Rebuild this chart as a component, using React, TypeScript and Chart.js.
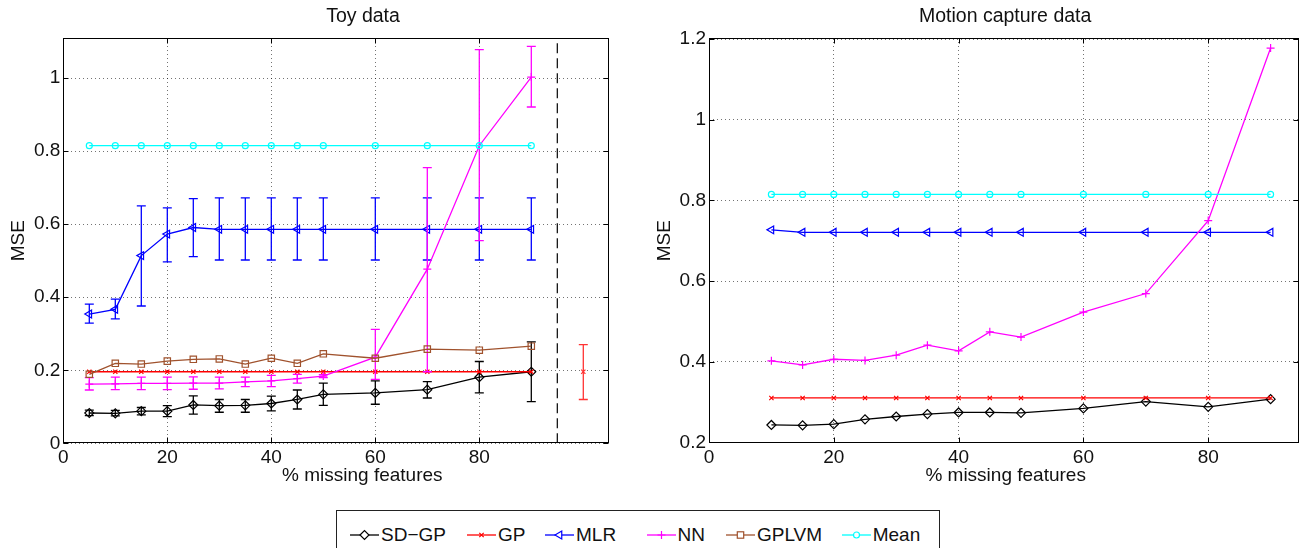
import React, { useEffect, useRef } from "react";
import { Chart, registerables } from "chart.js";

Chart.register(...registerables);

const FONT = "'Liberation Sans', Arial, Helvetica, sans-serif";
const TEXT = "#111";
const GRID = "rgba(0,0,0,0.55)";

// ---- series meta ----
const seriesNames = ["SD\u2212GP", "GP", "MLR", "NN", "GPLVM", "Mean"];
const seriesColors = ["#000000", "#ff0000", "#0000ff", "#ff00ff", "#a0522d", "#00ffff"];
const seriesMarkers = ["rectRot", "crossRot", "triangle", "cross", "rect", "circle"];

// ---- Toy data ----
const toyX = [5, 10, 15, 20, 25, 30, 35, 40, 45, 50, 60, 70, 80, 90];
const toySdgp = [0.083, 0.082, 0.088, 0.088, 0.105, 0.103, 0.104, 0.109, 0.12, 0.134, 0.138, 0.147, 0.181, 0.196];
const toySdgpLo = [0.076, 0.075, 0.078, 0.073, 0.08, 0.085, 0.085, 0.089, 0.094, 0.104, 0.107, 0.124, 0.138, 0.114];
const toySdgpHi = [0.091, 0.09, 0.098, 0.103, 0.13, 0.12, 0.12, 0.129, 0.146, 0.165, 0.171, 0.169, 0.224, 0.278];
const toyGp = [0.196, 0.196, 0.196, 0.196, 0.196, 0.196, 0.196, 0.196, 0.196, 0.196, 0.196, 0.196, 0.196, 0.196];
const toyMlr = [0.354, 0.367, 0.514, 0.573, 0.591, 0.586, 0.586, 0.586, 0.586, 0.586, 0.586, 0.586, 0.586, 0.586];
const toyMlrLo = [0.329, 0.341, 0.376, 0.497, 0.511, 0.502, 0.502, 0.502, 0.502, 0.502, 0.502, 0.502, 0.502, 0.502];
const toyMlrHi = [0.381, 0.395, 0.65, 0.645, 0.67, 0.672, 0.672, 0.672, 0.672, 0.672, 0.672, 0.672, 0.672, 0.672];
const toyNn = [0.162, 0.163, 0.164, 0.164, 0.165, 0.165, 0.168, 0.171, 0.177, 0.184, 0.236, 0.477, 0.815, 1.003];
const toyNnLo = [0.146, 0.147, 0.147, 0.147, 0.148, 0.149, 0.155, 0.155, 0.165, 0.18, 0.175, 0.196, 0.555, 0.921];
const toyNnHi = [0.18, 0.181, 0.181, 0.181, 0.182, 0.181, 0.181, 0.186, 0.189, 0.188, 0.312, 0.755, 1.078, 1.087];
const toyGplvm = [0.189, 0.219, 0.217, 0.225, 0.23, 0.231, 0.217, 0.233, 0.219, 0.245, 0.233, 0.258, 0.255, 0.266];
const toyMean = [0.815, 0.815, 0.815, 0.815, 0.815, 0.815, 0.815, 0.815, 0.815, 0.815, 0.815, 0.815, 0.815, 0.815];
const toyGpHeldX = [100];
const toyGpHeld = [0.196];
const toyGpHeldLo = [0.12];
const toyGpHeldHi = [0.27];
const toyDividerX = [95, 95];
const toyDividerY = [0, 1.11];
const toyXTicks = [0, 20, 40, 60, 80];
const toyYTicks = [0, 0.2, 0.4, 0.6, 0.8, 1];

// ---- Motion capture data ----
const motionX = [10, 15, 20, 25, 30, 35, 40, 45, 50, 60, 70, 80, 90];
const motionSdgp = [0.243, 0.242, 0.245, 0.257, 0.264, 0.27, 0.274, 0.274, 0.273, 0.284, 0.301, 0.288, 0.307];
const motionGp = [0.31, 0.31, 0.31, 0.31, 0.31, 0.31, 0.31, 0.31, 0.31, 0.31, 0.31, 0.31, 0.31];
const motionMlr = [0.727, 0.721, 0.721, 0.721, 0.721, 0.721, 0.721, 0.721, 0.721, 0.721, 0.721, 0.721, 0.721];
const motionNn = [0.402, 0.392, 0.406, 0.403, 0.416, 0.441, 0.427, 0.474, 0.461, 0.523, 0.569, 0.75, 1.178];
const motionMean = [0.815, 0.815, 0.815, 0.815, 0.815, 0.815, 0.815, 0.815, 0.815, 0.815, 0.815, 0.815, 0.815];
const motionXTicks = [0, 20, 40, 60, 80];
const motionYTicks = [0.2, 0.4, 0.6, 0.8, 1, 1.2];

const X_TITLE = "% missing features";
const Y_TITLE = "MSE";

const MARKER_R: Record<string, number> = { rectRot: 4.5, crossRot: 3, triangle: 4.5, cross: 4, rect: 4.5, circle: 3 };

function lineDataset(i: number, xs: number[], ys: number[], lo?: number[], hi?: number[]): any {
  const m = seriesMarkers[i];
  return {
    label: seriesNames[i],
    data: xs.map((x, k) => ({ x, y: ys[k] })),
    borderColor: seriesColors[i],
    backgroundColor: seriesColors[i],
    borderWidth: 1.3,
    pointStyle: m,
    pointRadius: MARKER_R[m],
    pointRotation: m === "triangle" ? -90 : 0,
    pointBorderWidth: 1.2,
    pointBackgroundColor: "rgba(0,0,0,0)",
    pointBorderColor: seriesColors[i],
    tension: 0,
    order: 10 - i,
    errLo: lo,
    errHi: hi,
  };
}

const errorBarPlugin = {
  id: "errorBars",
  afterDatasetDraw(chart: any, args: any) {
    const ds: any = chart.data.datasets[args.index];
    if (!ds.errLo) return;
    const { ctx, chartArea } = chart;
    const xs = chart.scales.x;
    const ys = chart.scales.y;
    ctx.save();
    ctx.beginPath();
    ctx.rect(chartArea.left, chartArea.top, chartArea.right - chartArea.left, chartArea.bottom - chartArea.top);
    ctx.clip();
    ctx.strokeStyle = ds.errColor || ds.borderColor;
    ctx.lineWidth = 1.3;
    const cap = 4.5;
    ds.data.forEach((p: any, k: number) => {
      const x = xs.getPixelForValue(p.x);
      const y1 = ys.getPixelForValue(ds.errLo[k]);
      const y2 = ys.getPixelForValue(ds.errHi[k]);
      ctx.beginPath();
      ctx.moveTo(x, y1);
      ctx.lineTo(x, y2);
      ctx.moveTo(x - cap, y1);
      ctx.lineTo(x + cap, y1);
      ctx.moveTo(x - cap, y2);
      ctx.lineTo(x + cap, y2);
      ctx.stroke();
    });
    ctx.restore();
  },
};

const framePlugin = {
  id: "frame",
  afterDraw(chart: any) {
    const { ctx, chartArea } = chart;
    const { left, right, top, bottom } = chartArea;
    ctx.save();
    ctx.strokeStyle = "#000";
    ctx.lineWidth = 1;
    const L = Math.round(left) + 0.5, R = Math.round(right) - 0.5;
    const T = Math.round(top) + 0.5, B = Math.round(bottom) - 0.5;
    ctx.strokeRect(L, T, R - L, B - T);
    const tl = 5;
    ctx.beginPath();
    chart.scales.x.ticks.forEach((t: any) => {
      const x = Math.round(chart.scales.x.getPixelForValue(t.value)) + 0.5;
      ctx.moveTo(x, B);
      ctx.lineTo(x, B - tl);
      ctx.moveTo(x, T);
      ctx.lineTo(x, T + tl);
    });
    chart.scales.y.ticks.forEach((t: any) => {
      const y = Math.round(chart.scales.y.getPixelForValue(t.value)) + 0.5;
      ctx.moveTo(L, y);
      ctx.lineTo(L + tl, y);
      ctx.moveTo(R, y);
      ctx.lineTo(R - tl, y);
    });
    ctx.stroke();
    ctx.restore();
  },
};

// titles centred over the plot box with a small horizontal offset (as in the reference)
const plotTitlePlugin = {
  id: "plotTitle",
  afterDraw(chart: any, _args: any, opts: any) {
    if (!opts) return;
    const { ctx, chartArea } = chart;
    const cx = (chartArea.left + chartArea.right) / 2;
    ctx.save();
    ctx.fillStyle = TEXT;
    ctx.textAlign = "center";
    ctx.textBaseline = "middle";
    if (opts.text) {
      ctx.font = `${opts.size}px ${FONT}`;
      ctx.fillText(opts.text, cx + opts.dx, opts.y);
    }
    if (opts.xText) {
      ctx.font = `${opts.xSize}px ${FONT}`;
      ctx.fillText(opts.xText, cx + opts.xDx, opts.xY);
    }
    ctx.restore();
  },
};

function fmt(v: number) {
  return String(Math.round(v * 10) / 10);
}

function buildConfig(p: {
  datasets: any[];
  xMin: number; xMax: number; xTicks: number[];
  yMin: number; yMax: number; yTicks: number[];
  yAxisWidth: number; yTitlePad: number; padRight: number;
  title: string; titleDx: number; xTitleDx: number;
}): any {
  const font = { family: FONT, size: 19 };
  return {
    type: "line",
    data: { datasets: p.datasets },
    plugins: [errorBarPlugin, framePlugin, plotTitlePlugin],
    options: {
      animation: false,
      responsive: false,
      devicePixelRatio: 1,
      events: [],
      layout: { padding: { top: 38, left: 0, right: p.padRight, bottom: 0 } },
      plugins: {
        legend: { display: false },
        tooltip: { enabled: false },
        plotTitle: {
          text: p.title, dx: p.titleDx, y: 17, size: 19.5,
          xText: X_TITLE, xDx: p.xTitleDx, xY: 476, xSize: 19,
        },
      },
      scales: {
        x: {
          type: "linear",
          min: p.xMin,
          max: p.xMax,
          afterBuildTicks: (s: any) => { s.ticks = p.xTicks.map((v) => ({ value: v })); },
          afterFit: (s: any) => { s.height = 56.7; },
          grid: { color: GRID, lineWidth: 1, drawTicks: false },
          border: { display: false, dash: [1, 3] },
          ticks: { padding: 3, font, color: TEXT, autoSkip: false, maxRotation: 0, callback: (v: any) => String(v) },
          title: { display: false },
        },
        y: {
          type: "linear",
          min: p.yMin,
          max: p.yMax,
          afterBuildTicks: (s: any) => { s.ticks = p.yTicks.map((v) => ({ value: v })); },
          afterFit: (s: any) => { s.width = p.yAxisWidth; },
          grid: { color: GRID, lineWidth: 1, drawTicks: false },
          border: { display: false, dash: [1, 3] },
          ticks: { padding: 3, font, color: TEXT, autoSkip: false, callback: (v: any) => fmt(v) },
          title: { display: true, text: Y_TITLE, font, color: TEXT, padding: { top: p.yTitlePad, bottom: 0 } },
        },
      },
    },
  };
}

function toyConfig() {
  const datasets = [
    lineDataset(0, toyX, toySdgp, toySdgpLo, toySdgpHi),
    lineDataset(1, toyX, toyGp),
    lineDataset(2, toyX, toyMlr, toyMlrLo, toyMlrHi),
    lineDataset(3, toyX, toyNn, toyNnLo, toyNnHi),
    lineDataset(4, toyX, toyGplvm),
    lineDataset(5, toyX, toyMean),
    {
      ...lineDataset(1, toyGpHeldX, toyGpHeld, toyGpHeldLo, toyGpHeldHi),
      label: "GP (held out)",
      showLine: false,
      borderColor: "#ff3333",
      pointBorderColor: "#ff3333",
      errColor: "#ff3333",
    },
    {
      label: "divider",
      data: toyDividerX.map((x, k) => ({ x, y: toyDividerY[k] })),
      borderColor: "#000",
      borderWidth: 1.2,
      borderDash: [10, 5],
      pointRadius: 0,
      order: 20,
    },
  ];
  return buildConfig({
    datasets,
    xMin: 0, xMax: 105, xTicks: toyXTicks,
    yMin: 0, yMax: 1.11, yTicks: toyYTicks,
    yAxisWidth: 63.3, yTitlePad: 7.8, padRight: 30.7,
    title: "Toy data", titleDx: 26.7, xTitleDx: 26,
  });
}

function motionConfig() {
  const datasets = [
    lineDataset(0, motionX, motionSdgp),
    lineDataset(1, motionX, motionGp),
    lineDataset(2, motionX, motionMlr),
    lineDataset(3, motionX, motionNn),
    lineDataset(5, motionX, motionMean),
  ];
  return buildConfig({
    datasets,
    xMin: 0, xMax: 94.6, xTicks: motionXTicks,
    yMin: 0.1975, yMax: 1.203, yTicks: motionYTicks,
    yAxisWidth: 59, yTitlePad: 3.6, padRight: 1,
    title: "Motion capture data", titleDx: 1, xTitleDx: 1.5,
  });
}

function ChartCanvas(props: { make: () => any; left: number; width: number; height: number }) {
  const ref = useRef<HTMLCanvasElement | null>(null);
  useEffect(() => {
    const chart = new Chart(ref.current as HTMLCanvasElement, props.make());
    return () => chart.destroy();
  }, []);
  return (
    <canvas
      ref={ref}
      width={props.width}
      height={props.height}
      style={{ position: "absolute", left: props.left, top: 0, width: props.width, height: props.height }}
    />
  );
}

function LegendMarker({ kind, color }: { kind: string; color: string }) {
  const cx = 14.5, cy = 7;
  let shape: any = null;
  const sp = { stroke: color, strokeWidth: 1.2, fill: "none" };
  if (kind === "rectRot") shape = <polygon points={`${cx - 4.5},${cy} ${cx},${cy - 4.5} ${cx + 4.5},${cy} ${cx},${cy + 4.5}`} {...sp} fill="#fff" />;
  if (kind === "crossRot") shape = <path d={`M${cx - 2.2} ${cy - 2.2}L${cx + 2.2} ${cy + 2.2}M${cx - 2.2} ${cy + 2.2}L${cx + 2.2} ${cy - 2.2}`} {...sp} />;
  if (kind === "triangle") shape = <polygon points={`${cx - 4.5},${cy} ${cx + 2.25},${cy - 3.9} ${cx + 2.25},${cy + 3.9}`} {...sp} fill="#fff" />;
  if (kind === "cross") shape = <path d={`M${cx - 4} ${cy}L${cx + 4} ${cy}M${cx} ${cy - 4}L${cx} ${cy + 4}`} {...sp} />;
  if (kind === "rect") shape = <rect x={cx - 3.2} y={cy - 3.2} width={6.4} height={6.4} {...sp} fill="#fff" />;
  if (kind === "circle") shape = <circle cx={cx} cy={cy} r={3} {...sp} fill="#fff" />;
  return (
    <svg width={29} height={14} style={{ position: "absolute", left: 0, top: 0 }}>
      <line x1={0} y1={cy} x2={29} y2={cy} stroke={color} strokeWidth={1.3} />
      {shape}
    </svg>
  );
}

function Legend() {
  const itemLeft = [13, 130, 208, 309.5, 389, 504.7];
  return (
    <div
      style={{
        position: "absolute",
        left: 336,
        top: 510,
        width: 604,
        height: 50,
        border: "1px solid #222",
        boxSizing: "border-box",
        background: "#fff",
        fontFamily: FONT,
        fontSize: 19,
        color: TEXT,
      }}
    >
      {seriesNames.map((name, i) => (
        <div key={name} style={{ position: "absolute", left: itemLeft[i], top: 17, height: 14 }}>
          <LegendMarker kind={seriesMarkers[i]} color={seriesColors[i]} />
          <span style={{ position: "absolute", left: 31, top: -4, lineHeight: "22px", whiteSpace: "nowrap" }}>{name}</span>
        </div>
      ))}
    </div>
  );
}

export default function App() {
  return (
    <div style={{ position: "fixed", left: 0, top: 0, width: 1305, height: 548, overflow: "hidden", background: "#fff" }}>
      <ChartCanvas make={toyConfig} left={0} width={640} height={500} />
      <ChartCanvas make={motionConfig} left={650} width={655} height={500} />
      <Legend />
    </div>
  );
}
